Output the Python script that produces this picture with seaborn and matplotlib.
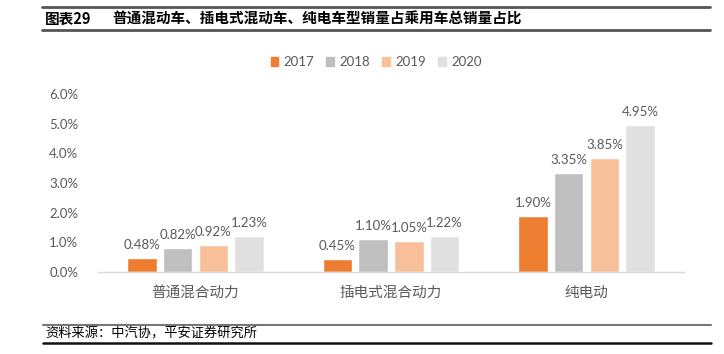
import numpy as np
import pandas as pd
import matplotlib
matplotlib.use('Agg')
import matplotlib.pyplot as plt
import seaborn as sns
from matplotlib.lines import Line2D

# data =========================================================================
categorias = ['普通混合动力', '插电式混合动力', '纯电动']
anos = ['2017', '2018', '2019', '2020']
v2017 = [0.48, 0.45, 1.90]
v2018 = [0.82, 1.10, 3.35]
v2019 = [0.92, 1.05, 3.85]
v2020 = [1.23, 1.22, 4.95]
cores = ['#ED7D31', '#BFBFBF', '#F7C098', '#E0E0E0']

titulo_num = '图表29'
titulo = '普通混动车、插电式混动车、纯电车型销量占乘用车总销量占比'
fonte = '资料来源：中汽协，平安证券研究所'

df = pd.DataFrame({
    'cat': categorias * 4,
    'ano': sum([[a] * 3 for a in anos], []),
    'valor': v2017 + v2018 + v2019 + v2020,
})

sns.set_theme(style='white')
plt.rcParams['font.family'] = ['Lato', 'Noto Sans CJK SC', 'DejaVu Sans']

fig = plt.figure(figsize=(7.24, 3.54), dpi=100)
W, H = 724, 354
ax = fig.add_axes([97.75 / W, 1 - 272 / H, (684.25 - 97.75) / W, (272 - 94) / H])

sns.barplot(data=df, x='cat', y='valor', hue='ano', palette=cores,
            width=0.73, gap=0.17, ax=ax, legend=False, saturation=1)

for c in ax.containers:
    ax.bar_label(c, fmt='%.2f%%', padding=5, fontsize=9.5, color='#595959')

ax.set_ylim(0, 6)
ax.set_yticks(np.arange(0, 7, 1))
ax.set_yticklabels([f'{v:.1f}%' for v in np.arange(0, 7, 1)])
ax.set_xlabel('')
ax.set_ylabel('')
ax.tick_params(axis='y', length=0, pad=14, labelsize=9.5, labelcolor='#595959')
ax.tick_params(axis='x', length=0, pad=10, labelsize=10.5, labelcolor='#595959')
for lab in ax.get_xticklabels():
    lab.set_family(['Noto Sans CJK SC', 'DejaVu Sans'])
for s in ['top', 'right', 'left']:
    ax.spines[s].set_visible(False)
ax.spines['bottom'].set_color('#D9D9D9')
ax.spines['bottom'].set_linewidth(1)

# legenda
handles = [plt.Rectangle((0, 0), 1, 1, color=c) for c in cores]
fig.legend(handles, anos, loc='center', bbox_to_anchor=(376 / W, 1 - 62 / H),
           ncol=4, frameon=False, fontsize=9.5, labelcolor='#595959',
           handlelength=0.6, handleheight=0.6, handletextpad=0.4,
           columnspacing=0.9)

# cabeçalho e rodapé
def hline(y, x0, x1, cor, lw):
    fig.add_artist(Line2D([x0 / W, x1 / W], [1 - y / H, 1 - y / H],
                          color=cor, lw=lw, transform=fig.transFigure))

hline(6.5, 42, 710, '#555555', 2.0)
hline(30, 42, 710, '#555555', 2.0)
hline(325, 43, 711, '#777777', 1.5)
hline(343, 43, 711, '#111111', 1.8)

cjk = ['Noto Sans CJK SC', 'DejaVu Sans']
fig.text(45 / W, 1 - 18.5 / H, titulo_num, fontsize=10.5, fontweight='bold',
         family=cjk, va='center', ha='left', color='black')
fig.text(112 / W, 1 - 18.5 / H, titulo, fontsize=10.5, fontweight='bold',
         family=cjk, va='center', ha='left', color='black')
fig.text(45 / W, 1 - 334 / H, fonte, fontsize=9.5, style='italic',
         family=cjk, va='center', ha='left', color='black')

fig.savefig('out.png', dpi=100)
